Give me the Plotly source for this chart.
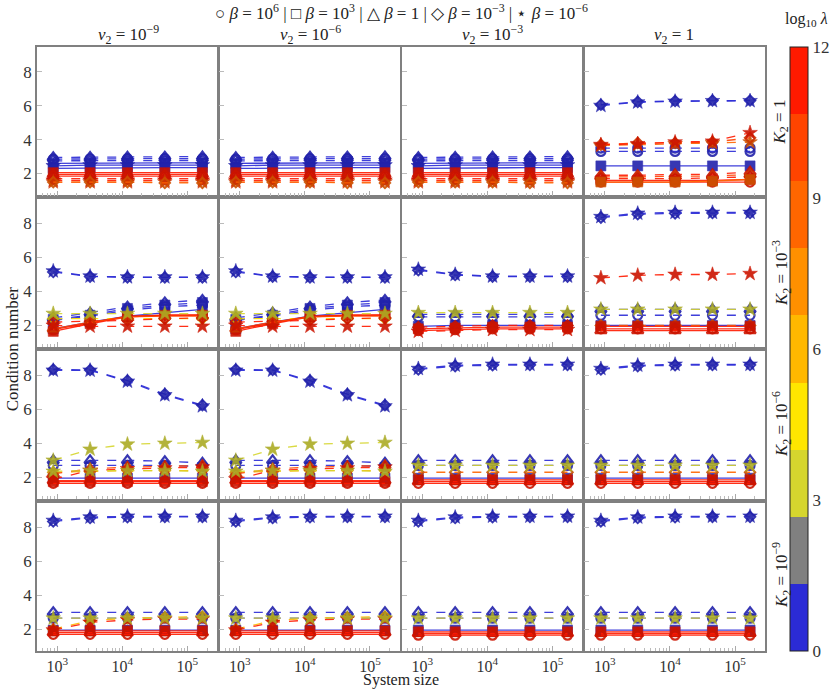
import plotly.graph_objects as go
from plotly.subplots import make_subplots

# system sizes (x) shared by every panel
SYSTEM_SIZE = [870, 3200, 12000, 45000, 170000]

COL_TITLES = ["<i>ν</i><sub>2</sub> = 10<sup>−9</sup>", "<i>ν</i><sub>2</sub> = 10<sup>−6</sup>",
              "<i>ν</i><sub>2</sub> = 10<sup>−3</sup>", "<i>ν</i><sub>2</sub> = 1"]
ROW_TITLES = ["<i>K</i><sub>2</sub> = 1", "<i>K</i><sub>2</sub> = 10<sup>−3</sup>",
              "<i>K</i><sub>2</sub> = 10<sup>−6</sup>", "<i>K</i><sub>2</sub> = 10<sup>−9</sup>"]

# log10 lambda colour bins (9 bins over 0..12)
LAMBDA_COLORS = ['#2b2bd6', '#808080', '#d6d62e', '#ffe600', '#ffb800',
                 '#ff9000', '#ff6600', '#ff4400', '#ff1a00']
COLORBAR_TICKS = [0, 3, 6, 9, 12]

# series: (beta marker, log10 lambda, line style, condition numbers)
K1_LOW_NU = [
    ('^', 0, 'dash', [2.95, 2.97, 2.98, 2.99, 3.0]),
    ('o', 0, 'dash', [2.85, 2.87, 2.88, 2.88, 2.88]),
    ('d', 0, 'dash', [2.75, 2.76, 2.77, 2.77, 2.77]),
    ('s', 0, 'solid', [2.6, 2.62, 2.63, 2.63, 2.63]),
    ('*', 0, 'solid', [2.45, 2.5, 2.5, 2.5, 2.5]),
    ('s', 0, 'solid', [2.3, 2.33, 2.35, 2.35, 2.35]),
    ('s', 12, 'solid', [2.05, 2.05, 2.05, 2.05, 2.05]),
    ('^', 12, 'solid', [1.95, 1.95, 1.95, 1.95, 1.95]),
    ('o', 12, 'solid', [1.85, 1.85, 1.85, 1.85, 1.85]),
    ('d', 12, 'dash', [1.7, 1.7, 1.7, 1.7, 1.7]),
    ('*', 12, 'dash', [1.6, 1.6, 1.6, 1.6, 1.6]),
    ('*', 10.5, 'dash', [1.5, 1.5, 1.5, 1.5, 1.5]),
    ('d', 9, 'dash', [1.5, 1.5, 1.5, 1.45, 1.45]),
]
K1_NU1 = [
    ('d', 0, 'dash', [6.05, 6.22, 6.27, 6.3, 6.3]),
    ('*', 0, 'dash', [6.0, 6.2, 6.25, 6.28, 6.28]),
    ('o', 0, 'dash', [3.5, 3.5, 3.5, 3.5, 3.5]),
    ('o', 0, 'dash', [3.3, 3.3, 3.3, 3.3, 3.3]),
    ('*', 9, 'dash', [3.65, 3.7, 3.75, 3.8, 3.85]),
    ('d', 10.5, 'dash', [3.7, 3.8, 3.8, 3.85, 4.1]),
    ('*', 12, 'dash', [3.7, 3.75, 3.85, 3.9, 4.4]),
    ('s', 0, 'solid', [2.45, 2.45, 2.45, 2.45, 2.45]),
    ('^', 12, 'dash', [1.9, 1.9, 1.95, 1.95, 2.1]),
    ('^', 10.5, 'dash', [1.8, 1.8, 1.85, 1.85, 1.95]),
    ('d', 12, 'dash', [1.7, 1.7, 1.7, 1.75, 1.8]),
    ('s', 12, 'solid', [1.6, 1.6, 1.6, 1.6, 1.65]),
    ('o', 12, 'solid', [1.5, 1.5, 1.5, 1.5, 1.5]),
    ('s', 9, 'solid', [1.5, 1.5, 1.5, 1.55, 1.65]),
]
K3_LOW_NU = [
    ('d', 0, 'dash', [5.15, 4.88, 4.83, 4.83, 4.83]),
    ('*', 0, 'dash', [5.2, 4.9, 4.85, 4.85, 4.85]),
    ('^', 0, 'dash', [2.45, 2.75, 3.1, 3.35, 3.5]),
    ('s', 0, 'dash', [2.35, 2.6, 3.0, 3.2, 3.35]),
    ('o', 0, 'dash', [2.3, 2.55, 2.9, 3.1, 3.2]),
    ('s', 0, 'solid', [1.8, 2.2, 2.55, 2.75, 2.95]),
    ('d', 4.5, 'dash', [2.4, 2.4, 2.4, 2.4, 2.4]),
    ('d', 12, 'dash', [2.2, 2.25, 2.3, 2.4, 2.45]),
    ('s', 12, 'solid', [1.65, 2.1, 2.5, 2.6, 2.6]),
    ('o', 12, 'solid', [1.75, 2.15, 2.55, 2.6, 2.62]),
    ('^', 10.5, 'solid', [1.8, 2.2, 2.5, 2.55, 2.55]),
    ('*', 12, 'dash', [2.0, 1.95, 1.95, 1.95, 1.95]),
    ('*', 3, 'dash', [2.7, 2.7, 2.7, 2.7, 2.7]),
]
K3_NU3 = [
    ('d', 0, 'dash', [5.25, 4.97, 4.88, 4.88, 4.88]),
    ('*', 0, 'dash', [5.3, 5.0, 4.9, 4.9, 4.9]),
    ('^', 0, 'dash', [2.65, 2.65, 2.65, 2.65, 2.65]),
    ('o', 0, 'dash', [2.5, 2.5, 2.5, 2.5, 2.5]),
    ('s', 0, 'solid', [1.95, 2.0, 2.0, 2.0, 2.0]),
    ('d', 12, 'dash', [1.9, 1.95, 2.0, 2.0, 2.0]),
    ('s', 12, 'solid', [1.8, 1.85, 1.9, 1.9, 1.9]),
    ('o', 12, 'solid', [1.7, 1.75, 1.8, 1.8, 1.8]),
    ('*', 12, 'dash', [1.65, 1.7, 1.75, 1.75, 1.75]),
    ('*', 3, 'dash', [2.75, 2.75, 2.75, 2.75, 2.75]),
]
K3_NU1 = [
    ('d', 0, 'dash', [8.35, 8.55, 8.6, 8.62, 8.62]),
    ('*', 0, 'dash', [8.4, 8.6, 8.65, 8.65, 8.65]),
    ('*', 12, 'dash', [4.8, 4.95, 5.0, 5.0, 5.05]),
    ('^', 0, 'dash', [2.95, 2.95, 2.95, 2.95, 2.95]),
    ('o', 0, 'dash', [2.6, 2.6, 2.6, 2.6, 2.6]),
    ('s', 0, 'solid', [2.0, 2.0, 2.0, 2.0, 2.0]),
    ('d', 9, 'dash', [2.0, 2.0, 2.0, 2.0, 2.0]),
    ('s', 12, 'solid', [1.95, 1.95, 1.95, 1.95, 1.95]),
    ('o', 12, 'solid', [1.8, 1.8, 1.8, 1.8, 1.8]),
    ('^', 12, 'solid', [1.7, 1.7, 1.7, 1.7, 1.7]),
    ('*', 3, 'dash', [2.95, 2.95, 2.95, 2.95, 2.95]),
]
K6_LOW_NU = [
    ('d', 0, 'dash', [8.35, 8.32, 7.7, 6.9, 6.25]),
    ('*', 0, 'dash', [8.3, 8.3, 7.65, 6.85, 6.2]),
    ('^', 0, 'dash', [3.0, 3.0, 3.0, 2.95, 2.85]),
    ('o', 0, 'dash', [2.7, 2.7, 2.7, 2.7, 2.65]),
    ('s', 0, 'solid', [1.95, 1.95, 1.95, 1.95, 1.95]),
    ('d', 6, 'dash', [2.3, 2.35, 2.4, 2.4, 2.4]),
    ('^', 10.5, 'dash', [2.2, 2.5, 2.6, 2.65, 2.7]),
    ('*', 12, 'dash', [1.9, 2.4, 2.5, 2.55, 2.6]),
    ('^', 12, 'solid', [1.8, 1.8, 1.8, 1.8, 1.8]),
    ('s', 12, 'solid', [1.75, 1.75, 1.75, 1.75, 1.75]),
    ('o', 12, 'solid', [1.65, 1.65, 1.65, 1.65, 1.65]),
    ('*', 3, 'dash', [2.35, 2.4, 2.4, 2.4, 2.35]),
    ('*', 3, 'dash', [3.0, 3.65, 3.95, 4.0, 4.05]),
]
K6_HIGH_NU = [
    ('d', 0, 'dash', [8.35, 8.55, 8.6, 8.62, 8.62]),
    ('*', 0, 'dash', [8.4, 8.6, 8.65, 8.65, 8.65]),
    ('^', 0, 'dash', [3.0, 3.0, 3.0, 3.0, 3.0]),
    ('o', 0, 'dash', [2.7, 2.7, 2.7, 2.7, 2.7]),
    ('s', 0, 'solid', [1.95, 1.95, 1.95, 1.95, 1.95]),
    ('d', 9, 'dash', [2.3, 2.3, 2.3, 2.3, 2.3]),
    ('s', 12, 'solid', [1.85, 1.85, 1.85, 1.85, 1.85]),
    ('^', 12, 'solid', [1.75, 1.75, 1.75, 1.75, 1.75]),
    ('o', 12, 'solid', [1.65, 1.65, 1.65, 1.65, 1.65]),
    ('*', 3, 'dash', [2.7, 2.7, 2.7, 2.7, 2.7]),
]
K9_LOW_NU = [
    ('d', 0, 'dash', [8.35, 8.55, 8.6, 8.62, 8.62]),
    ('*', 0, 'dash', [8.4, 8.6, 8.65, 8.65, 8.65]),
    ('^', 0, 'dash', [3.0, 3.0, 3.0, 3.0, 3.0]),
    ('o', 0, 'dash', [2.65, 2.65, 2.65, 2.65, 2.65]),
    ('s', 0, 'solid', [1.95, 1.95, 1.95, 1.95, 1.95]),
    ('d', 6, 'dash', [2.0, 2.5, 2.65, 2.7, 2.75]),
    ('*', 12, 'dash', [1.95, 2.4, 2.55, 2.6, 2.6]),
    ('s', 12, 'solid', [1.9, 1.9, 1.9, 1.9, 1.9]),
    ('^', 12, 'solid', [1.8, 1.8, 1.8, 1.8, 1.8]),
    ('o', 12, 'solid', [1.7, 1.7, 1.7, 1.7, 1.7]),
    ('*', 3, 'dash', [2.65, 2.65, 2.65, 2.65, 2.65]),
]
K9_HIGH_NU = [
    ('d', 0, 'dash', [8.35, 8.55, 8.6, 8.62, 8.62]),
    ('*', 0, 'dash', [8.4, 8.6, 8.65, 8.65, 8.65]),
    ('^', 0, 'dash', [3.0, 3.0, 3.0, 3.0, 3.0]),
    ('o', 0, 'dash', [2.65, 2.65, 2.65, 2.65, 2.65]),
    ('s', 0, 'solid', [1.95, 1.95, 1.95, 1.95, 1.95]),
    ('s', 12, 'solid', [1.85, 1.85, 1.85, 1.85, 1.85]),
    ('^', 12, 'solid', [1.75, 1.75, 1.75, 1.75, 1.75]),
    ('o', 12, 'solid', [1.65, 1.65, 1.65, 1.65, 1.65]),
    ('*', 3, 'dash', [2.65, 2.65, 2.65, 2.65, 2.65]),
]

PANELS = [
    [K1_LOW_NU, K1_LOW_NU, K1_LOW_NU, K1_NU1],
    [K3_LOW_NU, K3_LOW_NU, K3_NU3, K3_NU1],
    [K6_LOW_NU, K6_LOW_NU, K6_HIGH_NU, K6_HIGH_NU],
    [K9_LOW_NU, K9_LOW_NU, K9_HIGH_NU, K9_HIGH_NU],
]

SYMBOLS = {
    'o': dict(symbol='circle-open', size=9, lw=2.2),
    's': dict(symbol='square', size=10, lw=0.6),
    '^': dict(symbol='triangle-up-open', size=10, lw=2.2),
    'd': dict(symbol='diamond-open', size=8, lw=2.0),
    '*': dict(symbol='star', size=11, lw=0.6),
}


def lam_color(l):
    return LAMBDA_COLORS[min(int(l / (12 / 9)), 8)]


def darker(hexcol, f=0.8):
    r, g, b = (int(hexcol[i:i + 2], 16) for i in (1, 3, 5))
    return 'rgb(%d,%d,%d)' % (r * f, g * f, b * f)


FONT = "Liberation Serif"

fig = make_subplots(rows=4, cols=4, shared_xaxes=True, shared_yaxes=True,
                    horizontal_spacing=0.003, vertical_spacing=0.006)

for r in range(4):
    for c in range(4):
        for mk, lam, dash, vals in PANELS[r][c]:
            s = SYMBOLS[mk]
            col = lam_color(lam)
            fig.add_trace(go.Scatter(
                x=SYSTEM_SIZE, y=vals, mode='lines+markers',
                line=dict(color=col, width=1.3, dash=dash),
                marker=dict(symbol=s['symbol'], size=s['size'], color=darker(col),
                            line=dict(width=s['lw'], color=darker(col))),
                opacity=0.9, showlegend=False, hoverinfo='skip'),
                row=r + 1, col=c + 1)

# dummy trace for the discrete colourbar
cscale = []
for i, col in enumerate(LAMBDA_COLORS):
    cscale.append([i / 9, col])
    cscale.append([(i + 1) / 9, col])
fig.add_trace(go.Scatter(
    x=[None], y=[None], mode='markers', showlegend=False,
    marker=dict(color=[0], cmin=0, cmax=12, colorscale=cscale, showscale=True,
                colorbar=dict(x=1.034, xanchor='left', y=0.5, yanchor='middle',
                              len=1.0, thickness=18, xpad=0, ypad=0,
                              outlinewidth=1, outlinecolor='#222',
                              tickvals=COLORBAR_TICKS, ticks='',
                              tickfont=dict(family=FONT, size=17, color='#333')))),
    row=1, col=1)

fig.update_xaxes(type='log', range=[2.69, 5.46], automargin=False,
                 tickvals=[1e3, 1e4, 1e5],
                 ticktext=['10<sup>3</sup>', '10<sup>4</sup>', '10<sup>5</sup>'],
                 ticks='inside', ticklen=5, tickcolor='#aaa',
                 minor=dict(ticks='inside', ticklen=3, tickcolor='#bbb',
                            tickvals=[600, 700, 800, 900, 2000, 3000, 4000, 5000, 6000, 7000, 8000, 9000,
                                      20000, 30000, 40000, 50000, 60000, 70000, 80000, 90000,
                                      200000, 300000]),
                 showline=True, linecolor='#808080', linewidth=1.5, mirror=True,
                 showgrid=False, zeroline=False,
                 tickfont=dict(family=FONT, size=16, color='#333'))
fig.update_yaxes(range=[0.72, 9.45], tickvals=[2, 4, 6, 8], automargin=False,
                 ticks='inside', ticklen=5, tickcolor='#bbb',
                 showline=True, linecolor='#808080', linewidth=1.5, mirror=True,
                 showgrid=False, zeroline=False,
                 tickfont=dict(family=FONT, size=17, color='#333'))

annotations = []
for c, t in enumerate(COL_TITLES):
    annotations.append(dict(text=t, x=(c + 0.5) / 4, y=1.0, xref='paper', yref='paper',
                            xanchor='center', yanchor='bottom', yshift=-2, showarrow=False,
                            font=dict(family=FONT, size=17, color='#222')))
for r, t in enumerate(ROW_TITLES):
    annotations.append(dict(text=t, x=1.0, y=1 - (r + 0.5) / 4, xref='paper', yref='paper',
                            xanchor='left', yanchor='middle', xshift=2, textangle=-90,
                            showarrow=False, font=dict(family=FONT, size=17, color='#222')))
annotations += [
    dict(text="○ <i>β</i> = 10<sup>6</sup> | □ <i>β</i> = 10<sup>3</sup> | △ <i>β</i> = 1 | "
              "◇ <i>β</i> = 10<sup>−3</sup> | ⋆ <i>β</i> = 10<sup>−6</sup>",
         x=0.5, y=1.058, xref='paper', yref='paper', xanchor='center', yanchor='middle',
         showarrow=False, font=dict(family=FONT, size=17, color='#222')),
    dict(text="log<sub>10</sub> <i>λ</i>", x=1.089, y=1.045, xref='paper', yref='paper',
         xanchor='right', yanchor='middle', showarrow=False,
         font=dict(family=FONT, size=16, color='#222')),
    dict(text="Condition number", x=-0.034, y=0.5, xref='paper', yref='paper',
         xanchor='center', yanchor='middle', textangle=-90, showarrow=False,
         font=dict(family=FONT, size=17, color='#222')),
    dict(text="System size", x=0.5, y=-0.066, xref='paper', yref='paper',
         xanchor='center', yanchor='bottom', showarrow=False,
         font=dict(family=FONT, size=16, color='#222')),
]

fig.update_layout(width=830, height=691, template='plotly_white',
                  margin=dict(l=37, r=65, t=47, b=40, autoexpand=False),
                  plot_bgcolor='white', paper_bgcolor='white',
                  annotations=annotations)

fig.write_html("out.html", config={'displayModeBar': False},
               post_script="document.body.style.margin='0px';document.body.style.overflow='hidden';")
